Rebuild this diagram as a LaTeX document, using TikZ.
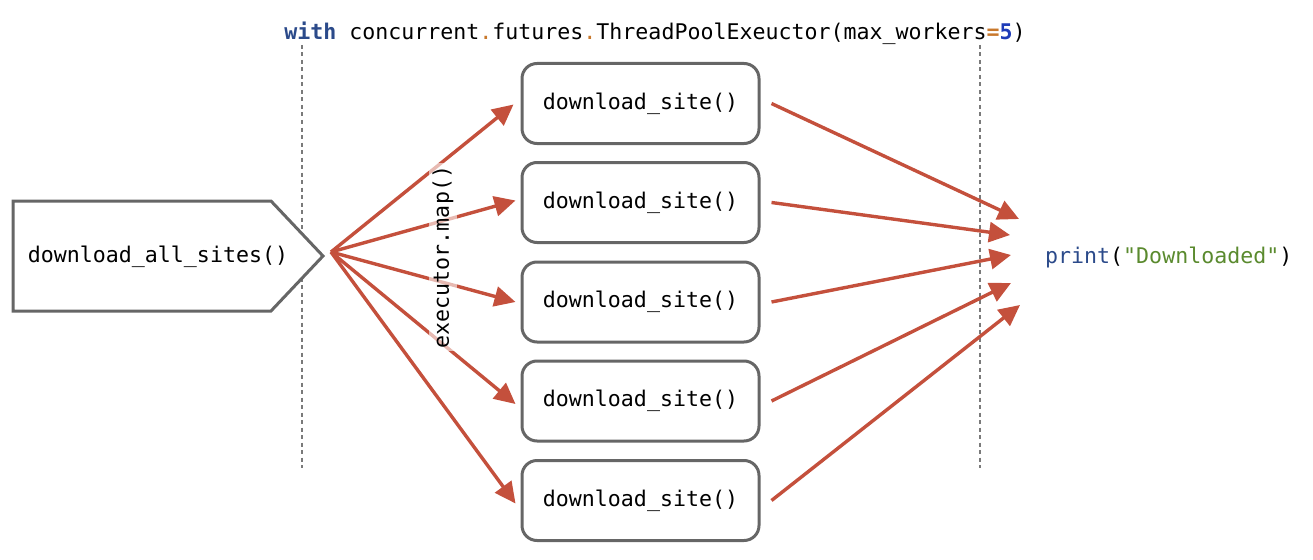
\documentclass[tikz,border=0pt]{standalone}
\usepackage{fontspec}
\setmonofont{DejaVu Sans Mono}
\usetikzlibrary{arrows.meta}
\definecolor{arr}{HTML}{C4503C}
\definecolor{boxgray}{HTML}{666666}
\definecolor{dashgray}{HTML}{7A7A7A}
\definecolor{kwblue}{HTML}{2B4A8A}
\definecolor{numblue}{HTML}{1F3CB8}
\definecolor{opor}{HTML}{C8782C}
\definecolor{strgreen}{HTML}{5A8A2E}
\newcommand{\codefont}{\fontsize{21.6}{26}\selectfont\ttfamily}
\begin{document}
\begin{tikzpicture}[x=1pt,y=-1pt,
  sitebox/.style={draw=boxgray, line width=3pt, rounded corners=15pt, fill=white,
    minimum width=237pt, minimum height=80pt, font=\codefont, inner sep=0pt},
  flow/.style={draw=arr, line width=3.4pt, -{Triangle[length=21pt,width=20pt]}},
  guide/.style={draw=dashgray, line width=1.8pt, dash pattern=on 4pt off 3.5pt},
  codetext/.style={font=\codefont, inner sep=0pt, anchor=center}]
\useasboundingbox (0,0) rectangle (1313,559);

% guide lines
\coordinate (g1a) at (302,45); \coordinate (g1b) at (302,468);
\coordinate (g2a) at (980,45); \coordinate (g2b) at (980,468);
\draw[guide] (g1a) -- (g1b);
\draw[guide] (g2a) -- (g2b);

% header
\node[codetext] (hdr) at (655,33) {\textcolor{kwblue}{\bfseries with} concurrent\textcolor{opor}{.}futures\textcolor{opor}{.}ThreadPoolExeuctor(max\_workers\textcolor{opor}{\bfseries =}\textcolor{numblue}{\bfseries 5})};

% left pentagon
\draw[draw=boxgray, line width=3pt, fill=white] (13,201) -- (271,201) -- (323,256) -- (271,311) -- (13,311) -- cycle;
\node[codetext] (all) at (158,257) {download\_all\_sites()};
\coordinate (fan) at (331,252);

% site boxes
\node[sitebox] (b1) at (640.5,103.5) {download\_site()};
\node[sitebox] (b2) at (640.5,202.5) {download\_site()};
\node[sitebox] (b3) at (640.5,302) {download\_site()};
\node[sitebox] (b4) at (640.5,401) {download\_site()};
\node[sitebox] (b5) at (640.5,500.5) {download\_site()};

% print
\node[codetext, anchor=west] (pr) at (1045,257) {\textcolor{kwblue}{print}(\textcolor{strgreen}{"Downloaded"})};
\coordinate (t1) at (1019,219);
\coordinate (t2) at (1010,235);
\coordinate (t3) at (1011,255);
\coordinate (t4) at (1011,283);
\coordinate (t5) at (1020,305);

% fan-out arrows
\draw[flow] (fan) -- ([xshift=-7pt,yshift=-1pt]b1.west);
\draw[flow] (fan) -- ([xshift=-5pt,yshift=2pt]b2.west);
\draw[flow] (fan) -- ([xshift=-5pt]b3.west);
\draw[flow] (fan) -- ([xshift=-5pt,yshift=-3pt]b4.west);
\draw[flow] (fan) -- ([xshift=-5pt,yshift=-3pt]b5.west);

% fan-in arrows
\draw[flow] ([xshift=11pt]b1.east) -- (t1);
\draw[flow] ([xshift=11pt]b2.east) -- (t2);
\draw[flow] ([xshift=11pt]b3.east) -- (t3);
\draw[flow] ([xshift=11pt]b4.east) -- (t4);
\draw[flow] ([xshift=11pt]b5.east) -- (t5);

% map label
\node[codetext, rotate=90, fill=white, fill opacity=0.6, text opacity=1, inner xsep=3pt, inner ysep=4pt] (map) at (443,257) {executor.map()};
\end{tikzpicture}
\end{document}
